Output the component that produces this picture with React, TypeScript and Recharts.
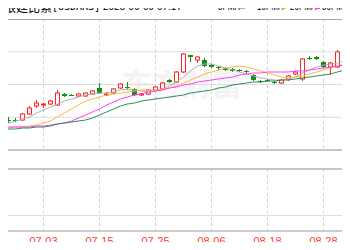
import React from "react";
import { ComposedChart, Bar, Line, XAxis, YAxis, CartesianGrid } from "recharts";

// trading days, two leading days sit off the left edge
const dates = [
  "06-23", "06-24", "06-25", "06-26", "06-27", "06-30", "07-01", "07-02", "07-03", "07-04",
  "07-07", "07-08", "07-09", "07-10", "07-11", "07-14", "07-15", "07-16", "07-17", "07-18",
  "07-21", "07-22", "07-23", "07-24", "07-25", "07-28", "07-29", "07-30", "07-31", "08-01",
  "08-04", "08-05", "08-06", "08-07", "08-08", "08-11", "08-12", "08-13", "08-14", "08-15",
  "08-18", "08-19", "08-20", "08-21", "08-22", "08-25", "08-26", "08-27", "08-28", "08-29",
  "09-01", "09-02", "09-03",
];

const opens = [
  1170, 1166, 1168, 1178, 1178, 1178, 1190, 1206, 1208, 1210, 1208, 1230, 1228, 1226, 1226, 1230,
  1242, 1228, 1232, 1242, 1244, 1240, 1228, 1230, 1238, 1240, 1258, 1254, 1274, 1308, 1298, 1298,
  1288, 1284, 1282, 1280, 1278, 1276, 1268, 1256, 1258, 1254, 1252, 1260, 1270, 1260, 1302, 1304,
  1294, 1284, 1284, 1312, 1310,
];
const closes = [
  1166, 1168, 1176, 1176, 1176, 1190, 1202, 1212, 1210, 1216, 1232, 1226, 1226, 1230, 1232, 1236,
  1232, 1230, 1240, 1250, 1242, 1228, 1230, 1238, 1244, 1252, 1254, 1274, 1310, 1304, 1304, 1286,
  1284, 1282, 1278, 1276, 1276, 1274, 1258, 1254, 1256, 1252, 1258, 1266, 1274, 1300, 1300, 1300,
  1284, 1292, 1314, 1302, 1320,
];
const highs = [
  1172, 1170, 1180, 1184, 1182, 1192, 1206, 1218, 1212, 1218, 1238, 1232, 1230, 1232, 1234, 1238,
  1252, 1234, 1242, 1252, 1254, 1242, 1232, 1240, 1246, 1254, 1260, 1276, 1312, 1308, 1306, 1302,
  1290, 1286, 1284, 1282, 1280, 1278, 1270, 1258, 1260, 1256, 1260, 1268, 1276, 1302, 1306, 1306,
  1296, 1294, 1318, 1314, 1324,
];
const lows = [
  1164, 1164, 1166, 1172, 1174, 1176, 1188, 1202, 1202, 1208, 1206, 1224, 1226, 1224, 1224, 1228,
  1230, 1226, 1230, 1240, 1238, 1226, 1226, 1228, 1236, 1238, 1252, 1252, 1272, 1294, 1292, 1284,
  1282, 1278, 1276, 1274, 1274, 1272, 1256, 1252, 1254, 1250, 1250, 1256, 1268, 1256, 1298, 1298,
  1282, 1268, 1282, 1300, 1308,
];

const ma5 = [
  1162, 1165, 1168, 1172, 1176, 1180, 1184, 1192, 1198, 1204, 1210, 1216, 1220, 1224, 1228, 1230,
  1232, 1232, 1234, 1238, 1240, 1238, 1236, 1234, 1236, 1240, 1246, 1254, 1264, 1276, 1286, 1290,
  1290, 1286, 1282, 1278, 1274, 1270, 1266, 1262, 1260, 1258, 1258, 1260, 1264, 1272, 1278, 1284,
  1288, 1290, 1292, 1296, 1300,
];
const ma10 = [
  1160, 1161, 1162, 1162, 1164, 1164, 1166, 1168, 1172, 1176, 1184, 1192, 1200, 1208, 1216, 1220,
  1224, 1228, 1230, 1232, 1234, 1236, 1238, 1238, 1238, 1240, 1242, 1246, 1252, 1258, 1264, 1270,
  1274, 1278, 1282, 1284, 1286, 1284, 1280, 1276, 1272, 1268, 1264, 1262, 1264, 1266, 1270, 1274,
  1278, 1282, 1286, 1290, 1292,
];
const ma20 = [
  1163, 1163, 1164, 1164, 1164, 1164, 1164, 1166, 1166, 1168, 1170, 1172, 1176, 1182, 1188, 1194,
  1200, 1208, 1214, 1220, 1224, 1228, 1230, 1234, 1236, 1238, 1242, 1244, 1248, 1250, 1254, 1256,
  1258, 1260, 1262, 1264, 1268, 1270, 1272, 1272, 1274, 1274, 1274, 1274, 1276, 1276, 1278, 1280,
  1282, 1284, 1286, 1288, 1290,
];
const ma30 = [
  1159, 1159, 1160, 1160, 1160, 1162, 1162, 1164, 1164, 1166, 1170, 1172, 1174, 1176, 1178, 1182,
  1188, 1194, 1200, 1206, 1210, 1212, 1216, 1218, 1220, 1222, 1224, 1226, 1228, 1232, 1234, 1236,
  1238, 1242, 1244, 1248, 1250, 1252, 1254, 1254, 1256, 1256, 1258, 1258, 1260, 1262, 1264, 1266,
  1268, 1270, 1274, 1278, 1280,
];
const volumes = dates.map(() => 0);

const tickDates = ["06-23", "07-03", "07-15", "07-25", "08-06", "08-18", "08-28"];
const priceTicks = [1118, 1150.75, 1183.5, 1216.25, 1249, 1281.75, 1314.5, 1347.25, 1380];
const volTicks = [0, 1, 2, 3, 4];

const legend = [
  { label: "5PMA", color: "#b0b0b0", left: 218, mark: 240 },
  { label: "10PMA", color: "#ffb43c", left: 257, mark: 281 },
  { label: "20PMA", color: "#ff3cff", left: 290, mark: 315 },
  { label: "30PMA", color: "#2d8a57", left: 322, mark: 350 },
];

const UP = "#ff2626";
const DOWN = "#1a8a1a";

const data = dates.map((d, k) => ({
  date: d,
  range: [lows[k], highs[k]],
  open: opens[k],
  close: closes[k],
  high: highs[k],
  low: lows[k],
  ma5: ma5[k],
  ma10: ma10[k],
  ma20: ma20[k],
  ma30: ma30[k],
  volume: volumes[k],
}));

const Candle = (props: any) => {
  const { x, y, width, height, payload } = props;
  if (payload == null) return null;
  const { open, close, high, low } = payload;
  const top = Math.min(y, y + height);
  const h = Math.abs(height);
  const c = x + width / 2;
  const span = high - low;
  const toY = (v: number) => (span === 0 ? top : top + ((high - v) / span) * h);
  const up = close >= open;
  const color = up ? UP : DOWN;
  const bTop = toY(Math.max(open, close));
  const bBot = toY(Math.min(open, close));
  const bh = Math.max(bBot - bTop, 1);
  return (
    <g>
      <line x1={c} x2={c} y1={top} y2={top + h} stroke={color} strokeWidth={1} />
      {up ? (
        <rect x={c - 2} y={bTop} width={4} height={bh} fill="#fff" stroke={color} strokeWidth={1} />
      ) : (
        <rect x={c - 2.5} y={bTop} width={5} height={bh} fill={color} />
      )}
    </g>
  );
};

const font = '"Liberation Sans", Arial, sans-serif';

export default function App() {
  return (
    <div
      style={{
        position: "relative",
        width: 350,
        height: 250,
        margin: -8,
        overflow: "hidden",
        background: "#fff",
        fontFamily: font,
        color: "#000",
      }}
    >
      {/* title */}
      <span style={{ position: "absolute", left: -8, top: 0, fontSize: 12, lineHeight: "13px", fontFamily: '"Noto Sans CJK SC", sans-serif', whiteSpace: "nowrap" }}>
        阿根廷比索
      </span>
      <span style={{ position: "absolute", left: 52, top: 1, fontSize: 10, lineHeight: "12px", fontFamily: '"DejaVu Sans Mono", monospace', whiteSpace: "nowrap" }}>
        [USDARS]
      </span>
      <span style={{ position: "absolute", left: 103, top: 1, fontSize: 10, lineHeight: "12px", whiteSpace: "nowrap" }}>
        2025-09-09 07:17
      </span>
      {legend.map((l) => (
        <React.Fragment key={l.label}>
          <span
            style={{
              position: "absolute",
              left: l.left,
              top: 1,
              fontSize: 10,
              lineHeight: "12px",
              whiteSpace: "nowrap",
              transform: "scaleX(0.8)",
              transformOrigin: "left center",
            }}
          >
            {l.label}
          </span>
          <div style={{ position: "absolute", left: l.mark, top: 5, width: 5, height: 4, background: l.color }} />
        </React.Fragment>
      ))}

      {/* watermark */}
      <span
        style={{
          position: "absolute",
          left: 122,
          top: 64,
          fontSize: 30,
          fontWeight: 700,
          color: "#f3f3f3",
          fontFamily: '"Noto Sans CJK SC", sans-serif',
          whiteSpace: "nowrap",
          lineHeight: "36px",
        }}
      >
        东方财富
      </span>

      {/* price panel */}
      <div style={{ position: "absolute", left: -16, top: 19 }}>
        <ComposedChart width={371} height={131} data={data} margin={{ top: 0, right: 0, bottom: 0, left: 0 }} barSize={5}>
          <CartesianGrid vertical={false} stroke="#dedede" />
          <CartesianGrid horizontal={false} stroke="#d0d0d0" strokeDasharray="3 3" />
          <XAxis dataKey="date" hide ticks={tickDates} interval={0} />
          <YAxis hide type="number" domain={[1118, 1380]} ticks={priceTicks} allowDataOverflow />
          <Bar dataKey="range" shape={<Candle />} isAnimationActive={false} />
          <Line type="linear" dataKey="ma5" stroke="#b0b0b0" strokeWidth={1} dot={false} isAnimationActive={false} />
          <Line type="linear" dataKey="ma10" stroke="#ffb43c" strokeWidth={1} dot={false} isAnimationActive={false} />
          <Line type="linear" dataKey="ma20" stroke="#ff3cff" strokeWidth={1} dot={false} isAnimationActive={false} />
          <Line type="linear" dataKey="ma30" stroke="#2d8a57" strokeWidth={1} dot={false} isAnimationActive={false} />
        </ComposedChart>
      </div>

      {/* volume panel */}
      <div style={{ position: "absolute", left: -16, top: 169 }}>
        <ComposedChart width={371} height={81} data={data} margin={{ top: 0, right: 0, bottom: 0, left: 0 }}>
          <CartesianGrid vertical={false} stroke="#dedede" />
          <CartesianGrid horizontal={false} stroke="#d0d0d0" strokeDasharray="3 3" />
          <XAxis
            dataKey="date"
            ticks={tickDates}
            interval={0}
            tickLine={false}
            tickSize={4}
            tickMargin={2}
            height={19}
            axisLine={{ stroke: "#a8a8a8" }}
            tick={{ fill: "#ff3b3b", fontSize: 11, fontFamily: font }}
          />
          <YAxis hide type="number" domain={[0, 4]} ticks={volTicks} />
          <Bar dataKey="volume" fill="#888" isAnimationActive={false} />
        </ComposedChart>
      </div>

      {/* panel borders */}
      <div style={{ position: "absolute", left: 0, top: 19, width: 350, height: 1, background: "#a8a8a8" }} />
      <div style={{ position: "absolute", left: 0, top: 149, width: 350, height: 2, background: "#c6c6c6" }} />
      <div style={{ position: "absolute", left: 0, top: 168, width: 350, height: 2, background: "#c6c6c6" }} />

      <span style={{ position: "absolute", right: 342, top: 153, fontSize: 11, lineHeight: "14px", whiteSpace: "nowrap" }}>
        量:0
      </span>
    </div>
  );
}
